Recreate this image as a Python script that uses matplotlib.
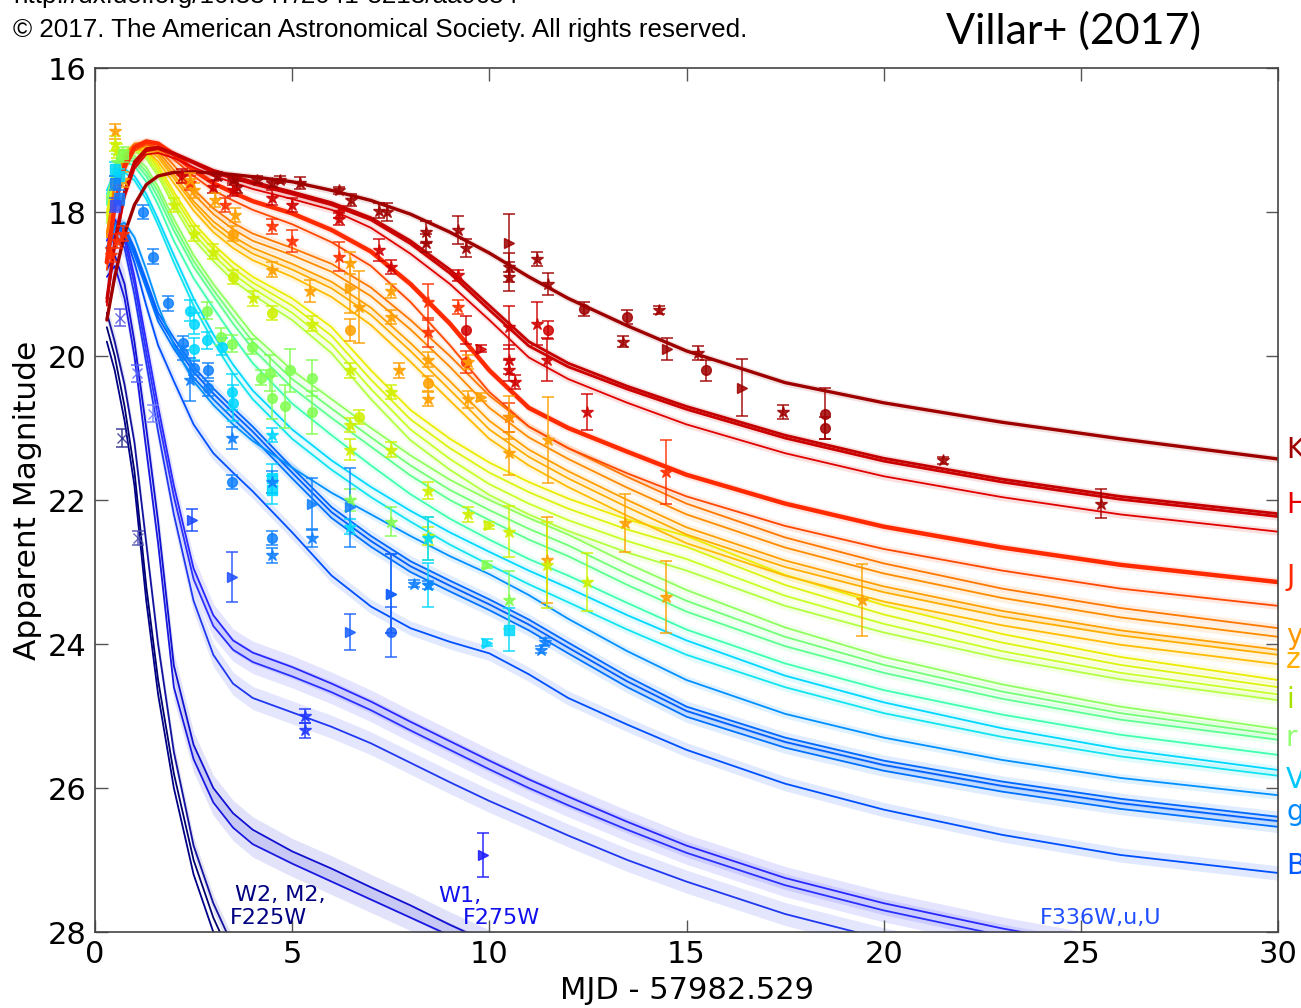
import matplotlib
matplotlib.use('Agg')
import matplotlib.pyplot as plt

nan = float('nan')

# ---------------- model light curves (days since merger, apparent mag) ----------------
T = [0.3, 0.5, 0.75, 1.0, 1.3, 1.6, 2.0, 2.5, 3.0, 3.5, 4.0, 5.0, 6.0, 7.0, 8.0, 9.0, 10.0, 11.0, 12.0, 13.5, 15.0, 17.5, 20.0, 23.0, 26.0, 30.0]

K_mod  = [19.5, 18.9, 18.3, 17.9, 17.62, 17.5, 17.45, 17.44, 17.46, 17.48, 17.51, 17.58, 17.7, 17.84, 18.03, 18.28, 18.57, 18.9, 19.2, 19.58, 19.93, 20.37, 20.65, 20.92, 21.15, 21.43]
H1_mod = [19.2, 18.4, 17.7, 17.3, 17.12, 17.1, 17.18, 17.3, 17.42, 17.5, 17.58, 17.72, 17.87, 18.08, 18.4, 18.8, 19.3, 19.8, 20.1, 20.42, 20.7, 21.1, 21.42, 21.71, 21.95, 22.19]
H2_mod = [19.25, 18.45, 17.75, 17.35, 17.15, 17.12, 17.2, 17.32, 17.45, 17.53, 17.61, 17.75, 17.9, 18.11, 18.44, 18.85, 19.36, 19.86, 20.15, 20.46, 20.74, 21.14, 21.46, 21.75, 21.99, 22.23]
H3_mod = [19.3, 18.5, 17.8, 17.4, 17.2, 17.18, 17.25, 17.38, 17.5, 17.59, 17.68, 17.82, 17.97, 18.22, 18.58, 19.0, 19.5, 20.02, 20.32, 20.65, 20.95, 21.35, 21.67, 21.96, 22.2, 22.44]
J1_mod = [18.7, 17.9, 17.35, 17.1, 17.02, 17.05, 17.2, 17.42, 17.6, 17.73, 17.85, 18.02, 18.25, 18.55, 19.0, 19.55, 20.2, 20.72, 21.0, 21.33, 21.65, 22.05, 22.37, 22.66, 22.9, 23.14]
J2_mod = [18.8, 18.0, 17.42, 17.15, 17.06, 17.1, 17.27, 17.5, 17.7, 17.84, 17.97, 18.17, 18.42, 18.75, 19.25, 19.85, 20.5, 20.98, 21.28, 21.63, 21.95, 22.36, 22.68, 22.98, 23.23, 23.47]
y1_mod = [18.3, 17.6, 17.2, 17.05, 17.03, 17.12, 17.35, 17.68, 17.95, 18.15, 18.3, 18.5, 18.72, 19.05, 19.5, 20.0, 20.55, 20.98, 21.28, 21.68, 22.05, 22.52, 22.88, 23.23, 23.5, 23.78]
y2_mod = [18.35, 17.65, 17.25, 17.08, 17.06, 17.16, 17.42, 17.75, 18.03, 18.24, 18.4, 18.6, 18.83, 19.17, 19.63, 20.15, 20.72, 21.13, 21.43, 21.83, 22.2, 22.66, 23.02, 23.36, 23.63, 23.9]
z1_mod = [18.3, 17.6, 17.22, 17.08, 17.08, 17.2, 17.48, 17.85, 18.13, 18.34, 18.5, 18.72, 18.97, 19.33, 19.82, 20.35, 20.9, 21.3, 21.6, 22.0, 22.38, 22.84, 23.2, 23.54, 23.81, 24.08]
z2_mod = [18.32, 17.62, 17.24, 17.1, 17.11, 17.24, 17.53, 17.9, 18.2, 18.41, 18.58, 18.8, 19.06, 19.43, 19.93, 20.47, 21.02, 21.4, 21.7, 22.1, 22.48, 22.93, 23.28, 23.62, 23.88, 24.15]
z3_mod = [18.35, 17.65, 17.27, 17.13, 17.15, 17.3, 17.6, 17.98, 18.28, 18.5, 18.67, 18.9, 19.18, 19.57, 20.08, 20.62, 21.15, 21.52, 21.82, 22.22, 22.6, 23.05, 23.41, 23.74, 24.01, 24.28]
i1_mod = [18.0, 17.45, 17.15, 17.08, 17.15, 17.35, 17.72, 18.15, 18.45, 18.7, 18.9, 19.2, 19.6, 20.2, 20.75, 21.15, 21.48, 21.75, 21.98, 22.27, 22.5, 23.04, 23.46, 23.86, 24.18, 24.5]
i2_mod = [18.05, 17.5, 17.18, 17.1, 17.18, 17.4, 17.78, 18.22, 18.52, 18.78, 18.98, 19.3, 19.72, 20.33, 20.88, 21.28, 21.62, 21.89, 22.12, 22.41, 22.65, 23.18, 23.59, 23.98, 24.29, 24.6]
i3_mod = [18.1, 17.55, 17.2, 17.12, 17.22, 17.45, 17.85, 18.3, 18.6, 18.86, 19.06, 19.4, 19.84, 20.46, 21.02, 21.43, 21.78, 22.05, 22.28, 22.57, 22.82, 23.33, 23.72, 24.1, 24.4, 24.7]
i4_mod = [18.15, 17.6, 17.25, 17.15, 17.26, 17.5, 17.92, 18.38, 18.68, 18.95, 19.15, 19.5, 19.96, 20.6, 21.17, 21.58, 21.93, 22.2, 22.43, 22.73, 22.98, 23.47, 23.84, 24.2, 24.49, 24.78]
r1_mod = [17.8, 17.35, 17.2, 17.22, 17.38, 17.65, 18.1, 18.6, 19.0, 19.35, 19.7, 20.2, 20.6, 21.0, 21.38, 21.72, 22.0, 22.25, 22.48, 22.88, 23.25, 23.77, 24.18, 24.56, 24.87, 25.18]
r2_mod = [17.83, 17.38, 17.23, 17.26, 17.44, 17.72, 18.18, 18.68, 19.08, 19.45, 19.8, 20.32, 20.73, 21.13, 21.52, 21.86, 22.14, 22.4, 22.63, 23.03, 23.4, 23.9, 24.29, 24.66, 24.96, 25.26]
r3_mod = [17.86, 17.41, 17.26, 17.3, 17.5, 17.8, 18.26, 18.76, 19.16, 19.55, 19.9, 20.44, 20.86, 21.26, 21.66, 22.0, 22.28, 22.55, 22.78, 23.18, 23.55, 24.03, 24.4, 24.76, 25.05, 25.33]
r4_mod = [17.9, 17.45, 17.3, 17.36, 17.58, 17.9, 18.4, 18.92, 19.33, 19.73, 20.1, 20.66, 21.1, 21.52, 21.92, 22.26, 22.55, 22.82, 23.05, 23.43, 23.8, 24.27, 24.64, 24.98, 25.26, 25.54]
V1_mod = [17.7, 17.45, 17.4, 17.5, 17.75, 18.1, 18.6, 19.2, 19.7, 20.12, 20.48, 21.02, 21.45, 21.82, 22.15, 22.45, 22.72, 22.98, 23.22, 23.6, 23.95, 24.44, 24.81, 25.17, 25.46, 25.75]
V2_mod = [17.75, 17.5, 17.45, 17.56, 17.82, 18.18, 18.7, 19.3, 19.8, 20.24, 20.6, 21.15, 21.58, 21.96, 22.3, 22.62, 22.9, 23.17, 23.42, 23.8, 24.15, 24.6, 24.96, 25.29, 25.56, 25.83]
gL_mod = [18.6, 18.2, 18.15, 18.35, 18.8, 19.3, 19.85, 20.35, 20.68, 20.95, 21.18, 21.55, 21.9, 22.2, 22.5, 22.78, 23.03, 23.32, 23.65, 24.1, 24.5, 24.97, 25.3, 25.61, 25.86, 26.1]
g1_mod = [18.5, 18.15, 18.2, 18.5, 18.95, 19.4, 19.75, 20.15, 20.45, 20.72, 20.98, 21.55, 22.1, 22.5, 22.85, 23.12, 23.38, 23.66, 23.98, 24.45, 24.87, 25.3, 25.62, 25.91, 26.15, 26.4]
g2_mod = [18.52, 18.18, 18.24, 18.55, 19.0, 19.46, 19.82, 20.22, 20.52, 20.79, 21.05, 21.62, 22.17, 22.57, 22.92, 23.19, 23.45, 23.73, 24.05, 24.52, 24.93, 25.36, 25.68, 25.97, 26.21, 26.46]
g3_mod = [18.55, 18.2, 18.28, 18.6, 19.06, 19.52, 19.9, 20.3, 20.6, 20.87, 21.13, 21.7, 22.25, 22.65, 23.0, 23.27, 23.53, 23.81, 24.13, 24.6, 25.01, 25.44, 25.76, 26.05, 26.29, 26.54]
B_mod  = [18.6, 18.2, 18.3, 18.7, 19.3, 19.85, 20.35, 20.95, 21.35, 21.62, 21.88, 22.45, 23.05, 23.48, 23.78, 23.97, 24.13, 24.42, 24.75, 25.12, 25.47, 25.94, 26.3, 26.65, 26.93, 27.18]
U1_mod = [18.4, 18.1, 18.3, 18.9, 19.8, 20.7, 21.8, 22.95, 23.6, 23.95, 24.12, 24.32, 24.55, 24.8, 25.08, 25.35, 25.62, 25.88, 26.12, 26.47, 26.8, 27.25, 27.6, 27.95, 28.25, 28.6]
U2_mod = [18.5, 18.2, 18.4, 19.0, 19.95, 20.85, 21.95, 23.1, 23.75, 24.08, 24.25, 24.45, 24.67, 24.92, 25.2, 25.47, 25.74, 26.0, 26.24, 26.58, 26.9, 27.35, 27.7, 28.05, 28.35, 28.7]
U3_mod = [18.6, 18.3, 18.5, 19.15, 20.1, 21.05, 22.2, 23.4, 24.15, 24.55, 24.75, 24.95, 25.15, 25.38, 25.65, 25.92, 26.18, 26.42, 26.66, 27.0, 27.3, 27.75, 28.1, 28.45, 28.75, 29.1]
W1a_mod = [18.8, 18.6, 19.0, 19.8, 21.0, 22.3, 24.3, 25.4, 26.0, 26.35, 26.58, 26.88, 27.12, 27.38, 27.63, 27.9, 28.15, 28.4, 28.65, nan, nan, nan, nan, nan, nan, nan]
W1b_mod = [18.9, 18.75, 19.2, 20.0, 21.3, 22.6, 24.6, 25.6, 26.2, 26.55, 26.78, 27.05, 27.3, 27.55, 27.8, 28.05, 28.3, 28.55, 28.8, nan, nan, nan, nan, nan, nan, nan]
W2a_mod = [19.6, 20.0, 20.7, 21.6, 23.2, 24.5, 25.8, 27.0, 27.8, 28.4, 29.0, nan, nan, nan, nan, nan, nan, nan, nan, nan, nan, nan, nan, nan, nan, nan]
W2b_mod = [19.8, 20.2, 20.9, 21.8, 23.4, 24.7, 26.0, 27.2, 28.0, 28.6, 29.2, nan, nan, nan, nan, nan, nan, nan, nan, nan, nan, nan, nan, nan, nan, nan]
W2c_mod = [19.4, 19.8, 20.4, 21.2, 22.6, 24.0, 25.5, 26.8, 27.6, 28.2, 28.8, nan, nan, nan, nan, nan, nan, nan, nan, nan, nan, nan, nan, nan, nan, nan]

# ---------------- observed photometry ----------------
K_t  = [3.1, 3.5, 3.6, 4.1, 4.5, 4.7, 5.2, 6.2, 6.5, 7.2, 7.4, 8.4, 8.4, 9.2, 9.4, 10.5, 10.5, 10.5, 11.2, 11.5, 12.4, 13.5, 13.4, 14.3, 14.5, 15.3, 15.5, 16.4, 17.45, 18.5, 18.5, 21.5, 25.5]
K_m  = [17.5, 17.55, 17.65, 17.55, 17.6, 17.55, 17.6, 17.7, 17.83, 17.98, 18.0, 18.28, 18.43, 18.25, 18.5, 18.43, 18.77, 18.9, 18.65, 19.0, 19.35, 19.46, 19.8, 19.36, 19.9, 19.96, 20.2, 20.44, 20.78, 20.8, 21.0, 21.45, 22.05]
K_e  = [0.05, 0.05, 0.08, 0.05, 0.05, 0.05, 0.08, 0.05, 0.08, 0.1, 0.12, 0.15, 0.12, 0.2, 0.12, 0.4, 0.2, 0.2, 0.1, 0.15, 0.1, 0.1, 0.08, 0.05, 0.15, 0.1, 0.15, 0.4, 0.1, 0.35, 0.15, 0.05, 0.2]
K_mk = ['*', '*', '*', '*', '*', '*', '*', '*', '*', '*', '*', '*', '*', '*', '*', '>', '*', '*', '*', '*', 'o', 'o', '*', '*', '>', '*', 'o', '>', '*', 'o', 'o', '*', '*']

H_t  = [2.2, 3.0, 3.5, 4.5, 5.0, 6.2, 6.2, 7.2, 7.5, 9.2, 9.4, 9.8, 10.5, 10.5, 10.5, 10.65, 11.2, 11.5, 11.46, 12.48]
H_m  = [17.5, 17.65, 17.7, 17.8, 17.9, 18.0, 18.1, 18.53, 18.76, 18.88, 19.64, 19.9, 19.6, 20.05, 20.2, 20.36, 19.55, 19.64, 20.05, 20.78]
H_e  = [0.1, 0.08, 0.08, 0.1, 0.1, 0.08, 0.08, 0.15, 0.1, 0.08, 0.2, 0.05, 0.3, 0.2, 0.15, 0.1, 0.3, 0.12, 0.3, 0.25]
H_mk = ['*', '*', '*', '*', '*', '*', '*', '*', '*', '*', 'o', '>', '*', '*', '*', '*', '*', 'o', '*', '*']

J_t  = [0.4, 0.55, 0.7, 2.4, 3.3, 4.5, 5.0, 6.2, 8.45, 8.45, 9.2, 9.4, 10.5, 14.47]
J_m  = [18.6, 18.4, 18.3, 17.6, 17.9, 18.2, 18.4, 18.62, 19.25, 19.67, 19.32, 20.08, 20.85, 21.61]
J_e  = [0.1, 0.1, 0.1, 0.1, 0.1, 0.1, 0.15, 0.2, 0.25, 0.2, 0.1, 0.15, 0.2, 0.45]
J_mk = ['*', '*', '*', '*', '*', '*', '*', '*', '*', '*', '*', 'o', '*', '*']

Y_t  = [0.51, 0.7, 2.4, 2.5, 3.04, 3.55, 3.5, 4.5, 5.45, 6.47, 6.47, 6.7, 6.47, 7.5, 7.5, 7.7, 8.45, 8.45, 8.45, 9.45, 9.45, 9.8, 10.5, 10.5, 11.5, 11.46, 13.44, 14.47, 19.45]
Y_m  = [16.88, 17.55, 17.56, 17.7, 17.83, 18.04, 18.3, 18.8, 19.1, 18.71, 19.05, 19.32, 19.64, 19.1, 19.46, 20.2, 20.05, 20.38, 20.6, 20.08, 20.6, 20.57, 20.85, 21.35, 21.17, 22.83, 22.32, 23.35, 23.39]
Y_e  = [0.1, 0.1, 0.1, 0.1, 0.1, 0.1, 0.1, 0.1, 0.15, 0.15, 0.35, 0.5, 0.15, 0.1, 0.1, 0.1, 0.1, 0.1, 0.1, 0.1, 0.12, 0.05, 0.3, 0.3, 0.6, 0.6, 0.4, 0.5, 0.5]
Y_mk = ['*', '*', '*', '*', '*', '*', 'o', '*', '*', '*', '>', '*', 'o', '*', '*', '*', '*', 'o', '*', '*', '*', '>', '*', '*', '*', '*', '*', '*', '*']

I_t  = [0.5, 0.55, 2.0, 2.5, 3.0, 3.5, 4.0, 4.5, 5.5, 6.47, 6.47, 6.7, 6.47, 7.5, 7.5, 8.45, 8.45, 9.45, 10.0, 10.5, 11.46, 12.48]
I_m  = [17.05, 17.15, 17.9, 18.3, 18.55, 18.9, 19.2, 19.4, 19.55, 20.2, 20.96, 20.85, 21.3, 20.5, 21.3, 21.87, 22.5, 22.2, 22.35, 22.44, 22.9, 23.14]
I_e  = [0.1, 0.1, 0.1, 0.1, 0.1, 0.1, 0.1, 0.1, 0.1, 0.1, 0.1, 0.1, 0.15, 0.1, 0.1, 0.12, 0.12, 0.1, 0.05, 0.35, 0.6, 0.4]
I_mk = ['*', '*', '*', '*', '*', 'o', '*', 'o', '*', '*', '*', 'o', '*', '*', '*', '*', '*', '*', '>', '*', '*', '*']

R_t  = [0.55, 0.7, 2.84, 3.2, 3.48, 3.98, 4.2, 4.44, 4.5, 4.82, 4.94, 5.5, 5.5, 6.47, 7.5, 8.45, 9.95, 10.5]
R_m  = [17.3, 17.2, 19.37, 19.73, 19.83, 19.87, 20.3, 20.24, 20.58, 20.7, 20.2, 20.3, 20.78, 22.0, 22.3, 22.53, 22.9, 23.39]
R_e  = [0.1, 0.1, 0.12, 0.12, 0.12, 0.1, 0.1, 0.25, 0.3, 0.3, 0.3, 0.25, 0.3, 0.15, 0.2, 0.3, 0.05, 0.4]
R_mk = ['*', 's', 'o', 'o', 'o', 'o', 'o', 'o', 'o', 'o', 'o', 'o', 'o', '*', '*', '*', '>', '*']

V_t  = [0.5, 0.6, 2.4, 2.5, 2.5, 2.84, 3.22, 3.48, 3.5, 4.5, 4.5, 4.5, 6.47, 8.45, 8.45, 9.95, 10.5]
V_m  = [17.4, 17.5, 19.37, 19.55, 19.9, 19.78, 19.87, 20.5, 20.65, 21.1, 21.7, 21.86, 22.37, 22.53, 23.18, 23.98, 23.8]
V_e  = [0.1, 0.1, 0.15, 0.15, 0.15, 0.12, 0.12, 0.25, 0.25, 0.1, 0.2, 0.2, 0.1, 0.3, 0.3, 0.05, 0.3]
V_mk = ['s', 's', 'o', 'o', 'o', 'o', 'o', 'o', 'o', '*', 's', 's', '*', '*', '*', '>', 's']

G_t  = [0.5, 0.6, 1.22, 1.47, 1.85, 2.23, 2.23, 2.4, 2.5, 2.87, 2.87, 3.48, 3.48, 4.5, 4.5, 4.5, 5.5, 5.5, 6.47, 7.5, 8.1, 8.45, 11.3, 11.4]
G_m  = [17.6, 17.8, 18.0, 18.62, 19.27, 19.82, 19.96, 20.33, 20.17, 20.2, 20.45, 21.14, 21.75, 21.75, 22.53, 22.77, 22.05, 22.53, 22.1, 23.3, 23.16, 23.18, 24.08, 23.97]
G_e  = [0.1, 0.1, 0.1, 0.1, 0.1, 0.1, 0.1, 0.3, 0.1, 0.1, 0.1, 0.15, 0.1, 0.15, 0.1, 0.1, 0.35, 0.12, 0.55, 0.55, 0.05, 0.05, 0.05, 0.05]
G_mk = ['s', 's', 'o', 'o', 'o', 'o', 'o', '*', 'o', 'o', 'o', '*', 'o', '*', 'o', '*', '>', '*', '>', '>', '*', '*', '*', '*']

UV_t  = [0.5, 0.63, 0.68, 1.07, 1.09, 1.47, 2.45, 3.48, 5.33, 5.33, 6.47, 7.5, 7.5, 9.84]
UV_m  = [17.9, 19.47, 21.14, 20.24, 22.53, 20.8, 22.28, 23.07, 25.0, 25.2, 23.83, 23.83, 23.3, 26.93]
UV_e  = [0.1, 0.12, 0.12, 0.12, 0.1, 0.12, 0.15, 0.35, 0.1, 0.1, 0.25, 0.35, 0.55, 0.3]
UV_mk = ['s', 'x', 'x', 'x', 'x', 'x', '>', '>', '*', '*', '>', 'o', '>', '>']
UV_c  = ['#3050ff', '#5050e0', '#303090', '#5060ff', '#5050b0', '#7080ff', '#1848ff', '#2050ff', '#2038ff', '#2038ff', '#1a60ff', '#1a60ff', '#1a60ff', '#1a1aff']

band_labels = ['K', 'H', 'J', 'y', 'z', 'i', 'r', 'V', 'g', 'B']
band_label_y = [450, 505, 577, 636, 660, 700, 738, 780, 812, 866]
band_label_c = ['#a00000', '#e80000', '#ff2800', '#ff9800', '#ffb000', '#a8e000', '#90ff70', '#00c8ff', '#0088ff', '#0058ff']

# ---------------- figure ----------------
W, H = 1301, 1008
fig = plt.figure(figsize=(W / 100, H / 100), dpi=100)
ax = fig.add_axes([95 / W, 1 - 932 / H, (1278 - 95) / W, (932 - 68) / H])

models = [
    (W2a_mod, '#00006e', 1.3, 0.0), (W2b_mod, '#000088', 1.3, 0.0), (W2c_mod, '#12129e', 1.3, 0.12),
    (W1a_mod, '#1010d0', 1.3, 0.18), (W1b_mod, '#1818e0', 1.3, 0.18),
    (U1_mod, '#2828ff', 1.3, 0.16), (U2_mod, '#2a30ff', 1.3, 0.16), (U3_mod, '#2038f0', 1.3, 0.16),
    (B_mod, '#0050ff', 1.3, 0.1),
    (g1_mod, '#0068ff', 1.3, 0.08), (g2_mod, '#0060ff', 1.3, 0.08), (g3_mod, '#0072ff', 1.3, 0.08),
    (gL_mod, '#0090ff', 1.3, 0.06),
    (V1_mod, '#00d8ff', 1.3, 0.06), (V2_mod, '#10e4f0', 1.3, 0.06),
    (r4_mod, '#40ffb0', 1.3, 0.06), (r3_mod, '#5cff90', 1.3, 0.06), (r2_mod, '#74ff78', 1.3, 0.06), (r1_mod, '#90ff60', 1.3, 0.06),
    (i4_mod, '#b4ff40', 1.3, 0.06), (i3_mod, '#c8ff28', 1.3, 0.06), (i2_mod, '#dcf410', 1.3, 0.06), (i1_mod, '#ecec00', 1.3, 0.06),
    (z3_mod, '#ffbc00', 1.3, 0.06), (z2_mod, '#ffae00', 1.3, 0.06), (z1_mod, '#ffa000', 1.3, 0.06),
    (y2_mod, '#ff8c00', 1.3, 0.06), (y1_mod, '#ff7800', 1.3, 0.06),
    (J2_mod, '#ff4800', 1.3, 0.05), (J1_mod, '#ff2a00', 3.2, 0.06),
    (H3_mod, '#e00000', 1.3, 0.05), (H2_mod, '#cc0000', 2.0, 0.05), (H1_mod, '#c40000', 2.0, 0.05),
    (K_mod, '#9e0000', 2.4, 0.05),
]
for mags, col, lw, unc in models:
    lo = [m - unc for m in mags]
    hi = [m + unc for m in mags]
    ax.fill_between(T, lo, hi, color=col, alpha=0.12, lw=0)
    ax.plot(T, mags, color=col, lw=lw, solid_capstyle='round', solid_joinstyle='round')

def draw_points(ts, ms, es, mks, color):
    cols = color if isinstance(color, list) else [color] * len(ts)
    for t, m, e, mk, c in zip(ts, ms, es, mks, cols):
        size = 9 if mk == '*' else 7
        ax.errorbar([t], [m], yerr=[e], fmt=mk, color=c, ms=size, mec=c, mfc=c,
                    elinewidth=1.2, capsize=4, capthick=1.2, alpha=0.85, zorder=5)

draw_points(K_t, K_m, K_e, K_mk, '#a00000')
draw_points(H_t, H_m, H_e, H_mk, '#d00000')
draw_points(J_t, J_m, J_e, J_mk, '#ff3000')
draw_points(Y_t, Y_m, Y_e, Y_mk, '#ffa000')
draw_points(I_t, I_m, I_e, I_mk, '#d0f000')
draw_points(R_t, R_m, R_e, R_mk, '#80ff50')
draw_points(V_t, V_m, V_e, V_mk, '#00d8ff')
draw_points(G_t, G_m, G_e, G_mk, '#1080ff')
draw_points(UV_t, UV_m, UV_e, UV_mk, UV_c)

ax.set_xlim(0, 30)
ax.set_ylim(28, 16)
ax.set_xticks([0, 5, 10, 15, 20, 25, 30])
ax.set_yticks([16, 18, 20, 22, 24, 26, 28])
ax.tick_params(direction='in', length=9, width=1, top=True, right=True, labelsize=22, pad=6, color='#555555')
for sp in ax.spines.values():
    sp.set_color('#444444')
    sp.set_linewidth(1.2)
ax.set_xlabel('MJD - 57982.529', fontsize=22, labelpad=5)
ax.set_ylabel('Apparent Magnitude', fontsize=22.5, labelpad=4)

ax.text(4.69, 27.48, 'W2, M2,', color='#000080', fontsize=16, ha='center', va='center')
ax.text(4.39, 27.8, 'F225W', color='#000080', fontsize=16, ha='center', va='center')
ax.text(9.26, 27.5, 'W1,', color='#1010ee', fontsize=16, ha='center', va='center')
ax.text(10.32, 27.8, 'F275W', color='#1010ee', fontsize=16, ha='center', va='center')
ax.text(25.5, 27.8, 'F336W,u,U', color='#1f4fff', fontsize=16, ha='center', va='center')

for lab, yy, cc in zip(band_labels, band_label_y, band_label_c):
    fig.text(1286 / W, 1 - yy / H, lab, color=cc, fontsize=20, ha='left', va='center')

fig.text(13 / W, 1 - 3 / H, 'http://dx.doi.org/10.3847/2041-8213/aa9c84', fontsize=18.7,
         family='Liberation Sans', ha='left', va='baseline')
fig.text(13 / W, 1 - 37 / H, '\u00a9 2017. The American Astronomical Society. All rights reserved.', fontsize=18.7,
         family='Liberation Sans', ha='left', va='baseline')
fig.text(1073 / W, 1 - 31 / H, 'Villar+ (2017)', fontsize=31, family='Lato', ha='center', va='center')

fig.savefig('out.png', dpi=100)
